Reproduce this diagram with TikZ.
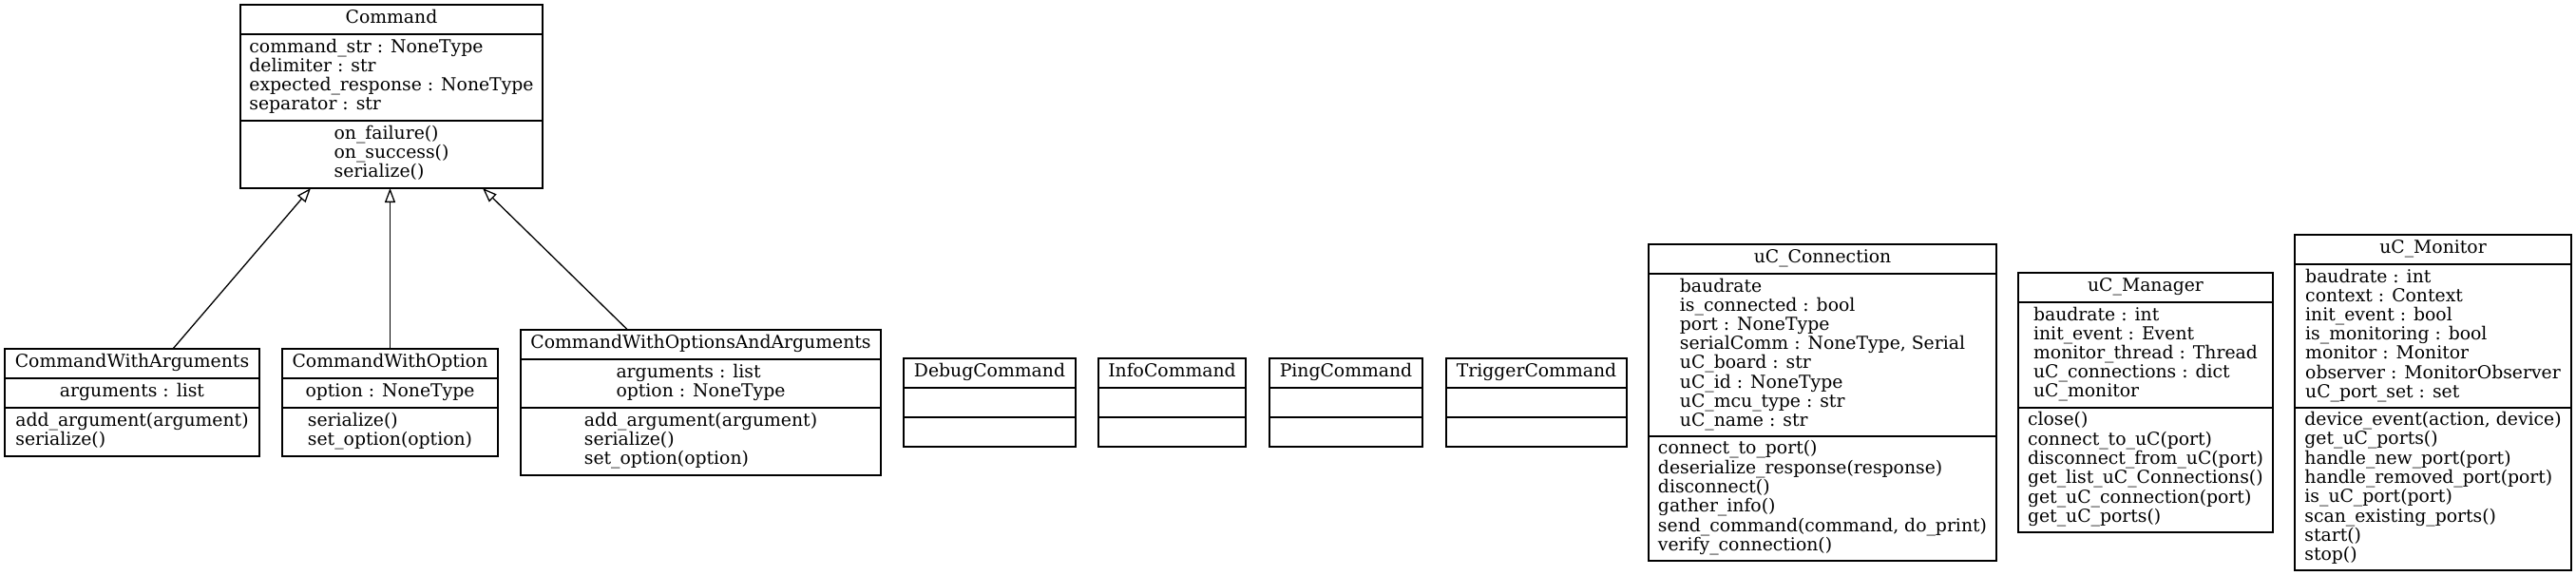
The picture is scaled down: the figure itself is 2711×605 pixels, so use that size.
\documentclass[tikz,border=0pt]{standalone}
\usepackage{fontspec}
\setmainfont{DejaVu Serif}
\usetikzlibrary{arrows.meta,calc}
\tikzset{
  classnode/.style={draw, line width=1.3pt, rectangle, inner sep=0pt, outer sep=0pt},
  headline/.style={line width=2pt},
  sepline/.style={line width=1.3pt},
  blocktext/.style={inner sep=0pt, outer sep=0pt, anchor=center},
  inh/.style={line width=1.3pt, -{Triangle[open, length=15pt, width=11pt, line width=1.3pt]}}
}
% #1 id, #2 left, #3 right, #4 top, #5 attr height, #6 meth height, #7 title, #8 attrs, #9 meths
\newcommand\classbox[9]{%
  \pgfmathsetmacro\cbx{(#2+#3)/2}%
  \pgfmathsetmacro\cbw{#3-#2}%
  \pgfmathsetmacro\cbh{31+#5+#6}%
  \pgfmathsetmacro\cby{#4+\cbh/2}%
  \pgfmathsetmacro\cbya{-(31+#5/2)}%
  \pgfmathsetmacro\cbys{-(31+#5)}%
  \pgfmathsetmacro\cbym{-(31+#5+#6/2)}%
  \node[classnode, minimum width=\cbw pt, minimum height=\cbh pt] (#1) at (\cbx,\cby) {};
  \draw[headline] ([yshift=-31pt]#1.north west) -- ([yshift=-31pt]#1.north east);
  \draw[sepline] ([yshift=\cbys pt]#1.north west) -- ([yshift=\cbys pt]#1.north east);
  \node[blocktext] (#1-t) at ([yshift=-15.5pt]#1.north) {\begin{tabular}{@{}c@{}}#7\end{tabular}};
  \node[blocktext] (#1-a) at ([yshift=\cbya pt]#1.north) {\begin{tabular}{@{}l@{}}#8\end{tabular}};
  \node[blocktext] (#1-m) at ([yshift=\cbym pt]#1.north) {\begin{tabular}{@{}l@{}}#9\end{tabular}};
}
\begin{document}
\begin{tikzpicture}[x=1pt,y=-1pt]
\fontsize{18.8}{20}\selectfont
\useasboundingbox (0,0) rectangle (2711,605);
\fill[white] (0,0) rectangle (2711,605);

\classbox{cmd}{253}{571}{5}{91}{71}{Command}
 {command\_str : NoneType\\ delimiter : str\\ expected\_response : NoneType\\ separator : str}
 {on\_failure()\\ on\_success()\\ serialize()}

\classbox{cwa}{5}{273}{367}{31}{51}{CommandWithArguments}
 {arguments : list}
 {add\_argument(argument)\\ serialize()}

\classbox{cwo}{297}{524}{367}{31}{51}{CommandWithOption}
 {option : NoneType}
 {serialize()\\ set\_option(option)}

\classbox{cwoa}{548}{927}{347}{51}{71}{CommandWithOptionsAndArguments}
 {arguments : list\\ option : NoneType}
 {add\_argument(argument)\\ serialize()\\ set\_option(option)}

\classbox{dbg}{951}{1132}{377}{31}{31}{DebugCommand}{}{}
\classbox{info}{1156}{1311}{377}{31}{31}{InfoCommand}{}{}
\classbox{ping}{1336}{1497}{377}{31}{31}{PingCommand}{}{}
\classbox{trig}{1522}{1712}{377}{31}{31}{TriggerCommand}{}{}

\classbox{conn}{1735}{2101}{257}{171}{131}{uC\_Connection}
 {baudrate\\ is\_connected : bool\\ port : NoneType\\ serialComm : NoneType, Serial\\ uC\_board : str\\ uC\_id : NoneType\\ uC\_mcu\_type : str\\ uC\_name : str}
 {connect\_to\_port()\\ deserialize\_response(response)\\ disconnect()\\ gather\_info()\\ send\_command(command, do\_print)\\ verify\_connection()}

\classbox{mgr}{2124}{2392}{287}{111}{131}{uC\_Manager}
 {baudrate : int\\ init\_event : Event\\ monitor\_thread : Thread\\ uC\_connections : dict\\ uC\_monitor}
 {close()\\ connect\_to\_uC(port)\\ disconnect\_from\_uC(port)\\ get\_list\_uC\_Connections()\\ get\_uC\_connection(port)\\ get\_uC\_ports()}

\classbox{mon}{2415}{2706}{247}{151}{171}{uC\_Monitor}
 {baudrate : int\\ context : Context\\ init\_event : bool\\ is\_monitoring : bool\\ monitor : Monitor\\ observer : MonitorObserver\\ uC\_port\_set : set}
 {device\_event(action, device)\\ get\_uC\_ports()\\ handle\_new\_port(port)\\ handle\_removed\_port(port)\\ is\_uC\_port(port)\\ scan\_existing\_ports()\\ start()\\ stop()}

\draw[inh] ([xshift=43pt]cwa.north) -- ([xshift=-85pt]cmd.south);
\draw[inh] (cwo.north) -- (cwo.north |- cmd.south);
\draw[inh] ([xshift=-77pt]cwoa.north) -- ([xshift=96pt]cmd.south);
\end{tikzpicture}
\end{document}
